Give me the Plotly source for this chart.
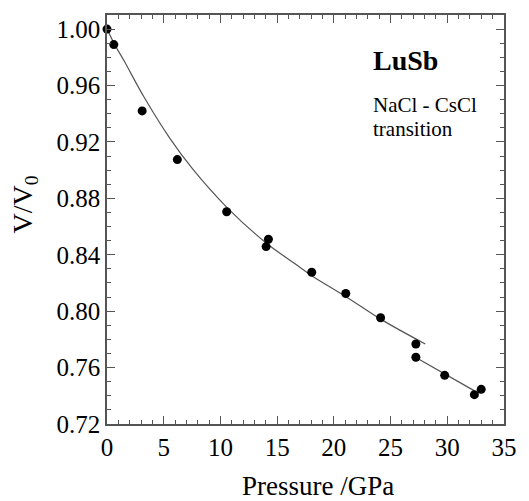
import plotly.graph_objects as go

# measured data points (Pressure GPa, V/V0)
pressure = [0.0, 0.6, 3.1, 6.2, 10.55, 14.03, 14.23, 18.05, 21.05, 24.12, 27.23, 27.23, 29.77, 32.39, 32.99]
volume = [1.000, 0.989, 0.942, 0.9075, 0.8705, 0.8458, 0.851, 0.8276, 0.8125, 0.7953, 0.7767, 0.7673, 0.7545, 0.7408, 0.7446]

# fitted curve, NaCl phase
fit1_p = [0.0, 0.68, 1.54, 3.25, 5.53, 7.53, 10.52, 14.09, 16.51, 18.08, 21.07, 24.2, 28.06]
fit1_v = [1.000, 0.989, 0.977, 0.952, 0.9227, 0.901, 0.874, 0.848, 0.834, 0.825, 0.8103, 0.794, 0.7767]

# fitted line, CsCl phase
fit2_p = [27.23, 32.4]
fit2_v = [0.7672, 0.7435]

x_ticks = [0, 5, 10, 15, 20, 25, 30, 35]
y_ticks = [0.72, 0.76, 0.80, 0.84, 0.88, 0.92, 0.96, 1.00]
y_ticklabels = ["0.72", "0.76", "0.80", "0.84", "0.88", "0.92", "0.96", "1.00"]

FONT = "Liberation Serif"
AXC = "#555555"

fig = go.Figure()
fig.add_trace(go.Scatter(x=fit1_p, y=fit1_v, mode="lines",
                         line=dict(color="#555555", width=1.2, shape="spline"),
                         showlegend=False, hoverinfo="skip"))
fig.add_trace(go.Scatter(x=fit2_p, y=fit2_v, mode="lines",
                         line=dict(color="#555555", width=1.2),
                         showlegend=False, hoverinfo="skip"))
fig.add_trace(go.Scatter(x=pressure, y=volume, mode="markers",
                         marker=dict(color="black", size=9),
                         showlegend=False, cliponaxis=False))

fig.update_xaxes(range=[0, 35], tickvals=x_ticks, ticks="inside", ticklen=8,
                 tickwidth=1.2, tickcolor=AXC, showline=True, linecolor=AXC,
                 linewidth=1.5, mirror="ticks", showgrid=False, zeroline=False,
                 tickfont=dict(family=FONT, size=25, color="black"),
                 minor=dict(dtick=1, ticks="inside", ticklen=4, tickcolor=AXC,
                            tickwidth=1, showgrid=False))
fig.update_yaxes(range=[0.72, 1.01], tickvals=y_ticks, ticktext=y_ticklabels,
                 ticks="inside", ticklen=8, tickwidth=1.2, tickcolor=AXC,
                 showline=True, linecolor=AXC, linewidth=1.5, mirror="ticks",
                 showgrid=False, zeroline=False,
                 tickfont=dict(family=FONT, size=25, color="black"),
                 minor=dict(dtick=0.01, tick0=0.72, ticks="inside", ticklen=4,
                            tickcolor=AXC, tickwidth=1, showgrid=False))

fig.add_annotation(text="Pressure /GPa", xref="paper", yref="paper",
                   x=(324 - 107) / 409, y=-(486 - 424) / 409,
                   xanchor="center", yanchor="middle", showarrow=False,
                   font=dict(family=FONT, size=27, color="black"))
fig.add_annotation(text="V/V<sub>0</sub>", xref="paper", yref="paper",
                   x=-(107 - 23) / 409, y=(424 - 204) / 409,
                   xanchor="center", yanchor="middle", textangle=-90, showarrow=False,
                   font=dict(family=FONT, size=28, color="black"))
fig.add_annotation(text="<b>LuSb</b>", x=23.3, y=0.978, xanchor="left", yanchor="middle",
                   showarrow=False, font=dict(family=FONT, size=28, color="black"))
fig.add_annotation(text="NaCl - CsCl", x=23.3, y=0.9465, xanchor="left", yanchor="middle",
                   showarrow=False, font=dict(family=FONT, size=21, color="black"))
fig.add_annotation(text="transition", x=23.3, y=0.9290, xanchor="left", yanchor="middle",
                   showarrow=False, font=dict(family=FONT, size=21, color="black"))

fig.update_layout(width=529, height=501, margin=dict(l=107, r=13, t=15, b=77),
                  paper_bgcolor="white", plot_bgcolor="white")

fig.write_html("out.html", config={"displayModeBar": False},
               post_script="document.body.style.margin='0';document.body.style.padding='0';")
